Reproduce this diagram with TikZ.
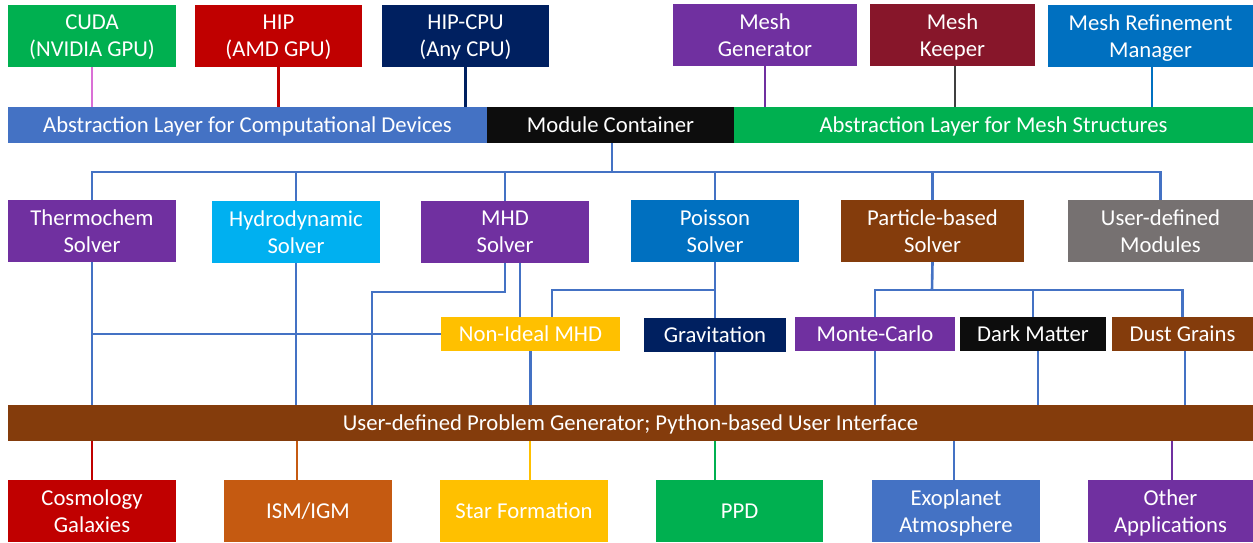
\documentclass[tikz,border=0pt]{standalone}
\usepackage{fontspec}
\setmainfont{Carlito}
\definecolor{cGreen}{HTML}{00B050}
\definecolor{cRed}{HTML}{C00000}
\definecolor{cNavy}{HTML}{002060}
\definecolor{cPurple}{HTML}{7030A0}
\definecolor{cMaroon}{HTML}{87162A}
\definecolor{cBlue}{HTML}{0070C0}
\definecolor{cSteel}{HTML}{4472C4}
\definecolor{cBlack}{HTML}{0D0D0D}
\definecolor{cCyan}{HTML}{00B0F0}
\definecolor{cBrown}{HTML}{843C0C}
\definecolor{cGray}{HTML}{767171}
\definecolor{cGold}{HTML}{FFC000}
\definecolor{cOrange}{HTML}{C55A11}
\definecolor{cOrchid}{HTML}{DA70D6}
\definecolor{cDark}{HTML}{404040}
\tikzset{
  box/.style={fill=#1, text=white, inner sep=0pt, align=center, text depth=-6pt,
    font=\fontsize{22.7}{27}\selectfont},
  tall/.style={minimum height=62pt},
  flat/.style={minimum height=36pt, text height=14.6pt, text depth=0pt},
  sub/.style={minimum height=34pt, text height=14.6pt, text depth=0pt},
  one/.style={text height=14.6pt, text depth=0pt},
  link/.style={draw=cSteel, line width=2.6pt},
  up/.style={draw=#1, line width=2.2pt},
  down/.style={draw=#1, line width=2pt}
}
\begin{document}
\begin{tikzpicture}[x=1pt,y=-1pt]
\useasboundingbox (0,0) rectangle (1253,542);
% top row
\node[box=cGreen,tall,minimum width=168pt] (cuda) at (92,36) {CUDA\\(NVIDIA GPU)};
\node[box=cRed,tall,minimum width=167pt] (hip) at (278.5,36) {HIP\\(AMD GPU)};
\node[box=cNavy,tall,minimum width=167pt] (hipcpu) at (465.5,36) {HIP-CPU\\(Any CPU)};
\node[box=cPurple,tall,minimum width=184pt] (meshgen) at (765,35) {Mesh\\Generator};
\node[box=cMaroon,tall,minimum width=165pt] (meshkeep) at (952.5,35) {Mesh\\Keeper};
\node[box=cBlue,tall,minimum width=205pt] (mrm) at (1150.5,36) {Mesh Refinement\\Manager};
% layer bar
\node[box=cSteel,flat,minimum width=479pt] (ald) at (247.5,125) {Abstraction Layer for Computational Devices};
\node[box=cBlack,flat,minimum width=247pt] (mc) at (610.5,125) {Module Container};
\node[box=cGreen,flat,minimum width=519pt] (alm) at (993.5,125) {Abstraction Layer for Mesh Structures};
% solvers
\node[box=cPurple,tall,minimum width=168pt] (thermo) at (92,231) {Thermochem\\Solver};
\node[box=cCyan,tall,minimum width=168pt] (hydro) at (296,232) {Hydrodynamic\\Solver};
\node[box=cPurple,tall,minimum width=168pt] (mhd) at (505,232) {MHD\\Solver};
\node[box=cBlue,tall,minimum width=168pt] (poisson) at (715,231) {Poisson\\Solver};
\node[box=cBrown,tall,minimum width=183pt] (particle) at (932.5,231) {Particle-based\\Solver};
\node[box=cGray,tall,minimum width=185pt] (userdef) at (1160.5,231) {User-defined\\Modules};
% sub-modules
\node[box=cGold,sub,minimum width=179pt] (nimhd) at (530.5,334) {Non-Ideal MHD};
\node[box=cNavy,sub,minimum width=142pt] (grav) at (715,335) {Gravitation};
\node[box=cPurple,sub,minimum width=160pt] (monte) at (875,334) {Monte-Carlo};
\node[box=cBlack,sub,minimum width=146pt] (dark) at (1033,334) {Dark Matter};
\node[box=cBrown,sub,minimum width=141pt] (dust) at (1182.5,334) {Dust Grains};
% problem generator bar
\node[box=cBrown,flat,minimum width=1245pt] (bar) at (630.5,423) {User-defined Problem Generator; Python-based User Interface};
% applications
\node[box=cRed,tall,minimum width=168pt] (cosmo) at (92,511) {Cosmology\\Galaxies};
\node[box=cOrange,tall,one,minimum width=168pt] (ism) at (308,511) {ISM/IGM};
\node[box=cGold,tall,one,minimum width=168pt] (star) at (524,511) {Star Formation};
\node[box=cGreen,tall,one,minimum width=167pt] (ppd) at (739.5,511) {PPD};
\node[box=cSteel,tall,minimum width=168pt] (exo) at (956,511) {Exoplanet\\Atmosphere};
\node[box=cPurple,tall,minimum width=165pt] (other) at (1170.5,511) {Other\\Applications};
% coordinates
\coordinate (bus) at (612,172);
\coordinate (mhdj) at (372,292);
\coordinate (pj) at (715,290);
\coordinate (ptj) at (932,290);
% top connectors
\draw[up=cOrchid] (cuda.south) -- (cuda.south |- ald.north);
\draw[up=cRed] (hip.south) -- (hip.south |- ald.north);
\draw[up=cNavy] (hipcpu.south) -- (hipcpu.south |- ald.north);
\draw[up=cPurple] (meshgen.south) -- (meshgen.south |- alm.north);
\draw[up=cDark] ([xshift=2.5pt]meshkeep.south) -- ++(0,41);
\draw[up=cBlue] ([xshift=1.5pt]mrm.south) -- ++(0,40);
% bus
\draw[link] ([xshift=1.5pt]mc.south) -- ([xshift=1.5pt]mc.south |- bus);
\draw[link] (thermo.north) |- (bus) -| (userdef.north);
\draw[link] (hydro.north) -- (hydro.north |- bus);
\draw[link] (mhd.north) -- (mhd.north |- bus);
\draw[link] (poisson.north) -- (poisson.north |- bus);
\draw[link] (particle.north) -- (particle.north |- bus);
% middle connectors
\draw[link] (thermo.south) -- (thermo.south |- bar.north);
\draw[link] (hydro.south) -- (hydro.south |- bar.north);
\draw[link] (nimhd.west) -- (nimhd.west -| thermo.south);
\draw[link] (mhd.south) |- (mhdj) -- (mhdj |- bar.north);
\draw[link] ([xshift=-10.5pt]nimhd.north) -- ++(0,-54);
\draw[link] ([xshift=21.5pt]nimhd.north) |- (pj);
\draw[link] (poisson.south) -- (grav.north);
\draw[link] (nimhd.south) -- (nimhd.south |- bar.north);
\draw[link] (grav.south) -- (grav.south |- bar.north);
\draw[link] (particle.south) -- (ptj);
\draw[link] (monte.north) |- (dust.north |- ptj) -- (dust.north);
\draw[link] (dark.north) -- (dark.north |- ptj);
\draw[link] (monte.south) -- (monte.south |- bar.north);
\draw[link] ([xshift=5pt]dark.south) -- ++(0,54);
\draw[link] ([xshift=2.5pt]dust.south) -- ++(0,54);
% bottom connectors
\draw[down=cRed] (cosmo.north) -- (cosmo.north |- bar.south);
\draw[down=cOrange] ([xshift=-11pt]ism.north) -- ++(0,-39);
\draw[down=cGold] ([xshift=6pt]star.north) -- ++(0,-39);
\draw[down=cGreen] ([xshift=-24.5pt]ppd.north) -- ++(0,-39);
\draw[down=cSteel] ([xshift=-2pt]exo.north) -- ++(0,-39);
\draw[down=cPurple] ([xshift=1.5pt]other.north) -- ++(0,-39);
\end{tikzpicture}
\end{document}
